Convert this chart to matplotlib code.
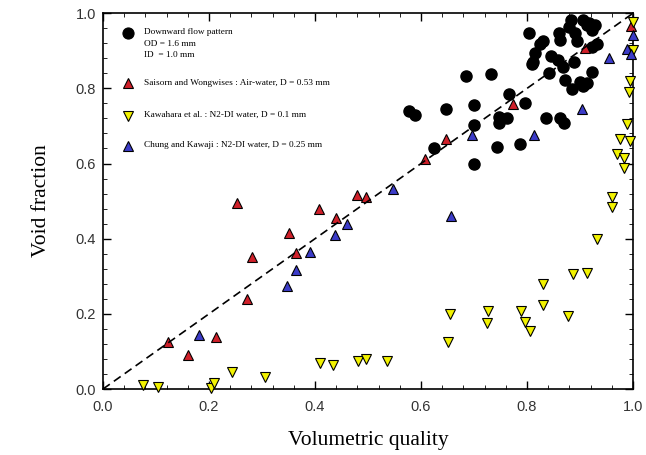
import matplotlib
matplotlib.use("Agg")
import matplotlib.pyplot as plt
from matplotlib.ticker import MultipleLocator

# present study, downward flow
down_x = [0.577, 0.588, 0.625, 0.647, 0.685, 0.699, 0.699, 0.699, 0.732, 0.743,
          0.748, 0.763, 0.748, 0.765, 0.786, 0.797, 0.809, 0.803, 0.836, 0.842,
          0.862, 0.869, 0.812, 0.815, 0.825, 0.830, 0.846, 0.859, 0.860, 0.862,
          0.867, 0.872, 0.880, 0.882, 0.884, 0.888, 0.891, 0.894, 0.900, 0.906,
          0.906, 0.913, 0.913, 0.922, 0.922, 0.922, 0.928, 0.931, 0.917]
down_y = [0.740, 0.729, 0.642, 0.744, 0.832, 0.757, 0.702, 0.598, 0.838, 0.645,
          0.724, 0.722, 0.708, 0.784, 0.651, 0.760, 0.866, 0.946, 0.722, 0.840,
          0.722, 0.708, 0.870, 0.894, 0.919, 0.926, 0.885, 0.876, 0.948, 0.930,
          0.857, 0.823, 0.964, 0.981, 0.797, 0.870, 0.946, 0.926, 0.818, 0.981,
          0.805, 0.968, 0.814, 0.955, 0.844, 0.911, 0.968, 0.918, 0.975]

# Saisorn and Wongwises
sw_x = [0.122, 0.160, 0.214, 0.253, 0.272, 0.282, 0.350, 0.364, 0.408, 0.440,
        0.480, 0.497, 0.608, 0.648, 0.773, 0.909, 0.996]
sw_y = [0.126, 0.090, 0.139, 0.494, 0.239, 0.350, 0.416, 0.361, 0.480, 0.454,
        0.516, 0.510, 0.611, 0.664, 0.758, 0.908, 0.965]

# Kawahara et al.
kw_x = [0.076, 0.103, 0.204, 0.210, 0.244, 0.306, 0.409, 0.433, 0.481, 0.496,
        0.535, 0.650, 0.655, 0.725, 0.727, 0.789, 0.796, 0.806, 0.830, 0.830,
        0.877, 0.887, 0.914, 0.931, 0.960, 0.960, 0.970, 0.975, 0.983, 0.983,
        0.988, 0.992, 0.994, 0.994, 1.000, 1.000]
kw_y = [0.011, 0.006, 0.003, 0.017, 0.046, 0.033, 0.070, 0.065, 0.075, 0.079,
        0.075, 0.126, 0.199, 0.177, 0.208, 0.208, 0.179, 0.155, 0.223, 0.279,
        0.194, 0.306, 0.310, 0.399, 0.483, 0.510, 0.625, 0.664, 0.587, 0.616,
        0.706, 0.791, 0.660, 0.819, 0.902, 0.977]

# Chung and Kawaji
ck_x = [0.181, 0.347, 0.365, 0.391, 0.438, 0.460, 0.548, 0.656, 0.696, 0.814,
        0.904, 0.955, 0.988, 0.997, 1.000]
ck_y = [0.144, 0.274, 0.318, 0.365, 0.411, 0.440, 0.531, 0.460, 0.676, 0.676,
        0.746, 0.882, 0.906, 0.891, 0.941]

labels = ["Downward flow pattern\nOD = 1.6 mm\nID  = 1.0 mm",
          "Saisorn and Wongwises : Air-water, D = 0.53 mm",
          "Kawahara et al. : N2-DI water, D = 0.1 mm",
          "Chung and Kawaji : N2-DI water, D = 0.25 mm"]

RED = "#d0202a"
YEL = "#f2f200"
BLU = "#3c3cc8"

fig = plt.figure(figsize=(6.46, 4.55), dpi=100)
ax = fig.add_axes([0.1594, 0.145, 0.8206, 0.826])

ax.plot(down_x, down_y, "o", color="black", ms=8, mec="black", zorder=3, clip_on=False)
ax.plot(sw_x, sw_y, "^", color=RED, ms=7.5, mec="black", mew=0.8, zorder=4, clip_on=False)
ax.plot(kw_x, kw_y, "v", color=YEL, ms=7.5, mec="black", mew=0.8, zorder=4, clip_on=False)
ax.plot(ck_x, ck_y, "^", color=BLU, ms=7.5, mec="black", mew=0.8, zorder=4, clip_on=False)

line, = ax.plot([0, 1], [0, 1], color="black", lw=1.2, zorder=5)
line.set_dashes([5, 3])

# hand-made legend, marker lined up with first text line
styles = [("o", "black", 8), ("^", RED, 7.5), ("v", YEL, 7.5), ("^", BLU, 7.5)]
ys = [0.947, 0.813, 0.726, 0.646]
for (m, c, s), yy, lab in zip(styles, ys, labels):
    ax.plot([0.047], [yy], m, color=c, ms=s, mec="black", mew=0.8,
            transform=ax.transAxes, zorder=6)
    ax.text(0.077, yy + 0.013, lab, transform=ax.transAxes, va="top", ha="left",
            fontsize=6.7, family="Liberation Serif", linespacing=1.6)

ax.set_xlim(0, 1)
ax.set_ylim(0, 1)
ax.xaxis.set_major_locator(MultipleLocator(0.2))
ax.xaxis.set_minor_locator(MultipleLocator(0.04))
ax.yaxis.set_major_locator(MultipleLocator(0.2))
ax.yaxis.set_minor_locator(MultipleLocator(0.04))
ax.tick_params(which="both", direction="in", top=True, right=True)
ax.tick_params(which="major", length=6, width=1)
ax.tick_params(which="minor", length=3, width=0.6)
ax.tick_params(axis="x", pad=8)
ax.tick_params(axis="y", pad=5)
for lb in ax.get_xticklabels() + ax.get_yticklabels():
    lb.set_family("Liberation Sans")
    lb.set_fontsize(10.5)
    lb.set_color("#333333")
for sp in ax.spines.values():
    sp.set_linewidth(1.2)

ax.set_xlabel("Volumetric quality", family="Liberation Serif", fontsize=15.5, labelpad=12)
ax.set_ylabel("Void fraction", family="Liberation Serif", fontsize=15.5, labelpad=18)

fig.savefig("out.png", dpi=100)
